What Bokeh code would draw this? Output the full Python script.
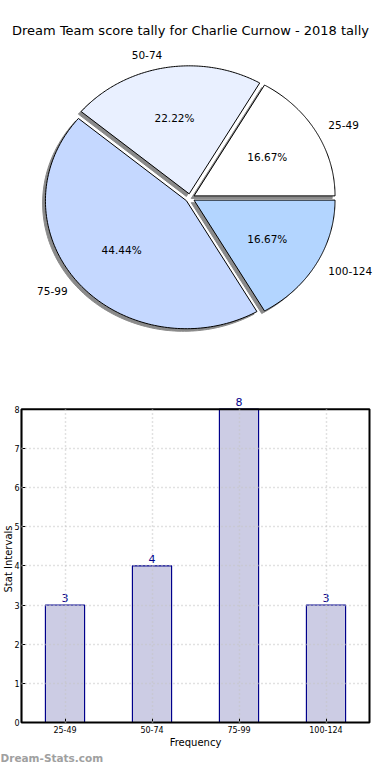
import numpy as np
from bokeh.plotting import figure
from bokeh.models import (Range1d, Label, FactorRange, SingleIntervalTicker, ColumnDataSource)
from bokeh.embed import file_html
from bokeh.resources import INLINE

# ---------------- data ----------------
title_text = "Dream Team score tally for Charlie Curnow - 2018 tally"
categories = ["25-49", "50-74", "75-99", "100-124"]
counts = [3, 4, 8, 3]
pie_colors = ["#ffffff", "#e9f0ff", "#c5d8ff", "#b3d5ff"]
y_ticks_interval = 1
x_label = "Frequency"
y_label = "Stat Intervals"
watermark = "Dream-Stats.com"

FONT = "DejaVu Sans"
W = 374

# ---------------- pie ----------------
PH = 395
pie = figure(width=W, height=PH, output_backend="svg", toolbar_location=None,
             x_range=Range1d(0, W), y_range=Range1d(0, PH), min_border=0)
pie.axis.visible = False
pie.grid.visible = False
pie.outline_line_color = None

cx, cy = 189.5, PH - 197.5
rx, ry = 141.0, 128.0
explode = 0.033
shadow_dx, shadow_dy = -0.02 * rx, -0.02 * ry

total = float(sum(counts))
fracs = [c / total for c in counts]
starts = np.cumsum([0.0] + fracs[:-1]) * 2 * np.pi
ends = np.cumsum(fracs) * 2 * np.pi

slice_xs, slice_ys, sh_xs, sh_ys = [], [], [], []
centers = []
for s, e in zip(starts, ends):
    mid = (s + e) / 2
    ox = cx + explode * rx * np.cos(mid)
    oy = cy + explode * ry * np.sin(mid)
    centers.append((ox, oy, mid))
    t = np.linspace(s, e, 120)
    xs = [ox] + list(ox + rx * np.cos(t)) + [ox]
    ys = [oy] + list(oy + ry * np.sin(t)) + [oy]
    slice_xs.append(xs)
    slice_ys.append(ys)
    sh_xs.append([x + shadow_dx for x in xs])
    sh_ys.append([y + shadow_dy for y in ys])

pie.patches(sh_xs, sh_ys, fill_color="#8a8a8a", line_color="#8a8a8a", line_width=1)
pie.patches(slice_xs, slice_ys, fill_color=pie_colors, line_color="black", line_width=1)

for (ox, oy, mid), cat, f in zip(centers, categories, fracs):
    lx = ox + 1.1 * rx * np.cos(mid)
    ly = oy + 1.1 * ry * np.sin(mid)
    pie.add_layout(Label(x=lx, y=ly, text=cat, text_font=FONT, text_font_size="10.5px",
                         text_align="left" if np.cos(mid) > 0 else "right",
                         text_baseline="middle", text_color="black"))
    px = ox + 0.6 * rx * np.cos(mid)
    py = oy + 0.6 * ry * np.sin(mid)
    pie.add_layout(Label(x=px, y=py, text="%.2f%%" % (f * 100), text_font=FONT,
                         text_font_size="10.5px", text_align="center", text_baseline="middle",
                         text_color="black"))

pie.add_layout(Label(x=190, y=PH - 30, text=title_text, text_font=FONT,
                     text_font_size="13px", text_align="center", text_baseline="middle",
                     text_color="black"))

# ---------------- bar ----------------
BH = 355
ymax = max(counts)
headroom = 0.35
src = ColumnDataSource(dict(cat=categories, count=counts))
bar = figure(width=W, height=BH, output_backend="svg", toolbar_location=None,
             x_range=FactorRange(factors=categories, range_padding=0),
             y_range=Range1d(0, ymax + headroom),
             min_border_top=0, min_border_left=19, min_border_right=5, min_border_bottom=24)
bar.vbar(x="cat", top="count", width=0.45, source=src, fill_color="#ccccE4",
         line_color="#00008b", line_width=1.2)

for i, c in enumerate(counts):
    bar.add_layout(Label(x=i + 0.5, y=c + 0.07, text=str(c), text_align="center",
                         text_baseline="bottom", text_color="#00008b",
                         text_font=FONT, text_font_size="11px"))

bar.yaxis.ticker = SingleIntervalTicker(interval=y_ticks_interval)
bar.yaxis.bounds = (0, ymax)

for ax in (bar.xaxis[0], bar.yaxis[0]):
    ax.major_tick_in = 4
    ax.major_tick_out = 0
    ax.minor_tick_in = 0
    ax.minor_tick_out = 0
    ax.axis_line_color = "black"
    ax.axis_line_width = 1.2
    ax.major_tick_line_color = "black"
    ax.major_label_text_font = FONT
    ax.major_label_text_font_size = "8px"
    ax.major_label_text_color = "black"
    ax.axis_label_text_font = FONT
    ax.axis_label_text_font_size = "10px"
    ax.axis_label_text_font_style = "normal"
    ax.axis_label_text_color = "black"
bar.xaxis[0].axis_label = x_label
bar.yaxis[0].axis_label = y_label
bar.xaxis[0].major_label_standoff = 3
bar.yaxis[0].major_label_standoff = 2
bar.xaxis[0].axis_label_standoff = 1
bar.yaxis[0].axis_label_standoff = -3

bar.grid.grid_line_color = "#c4c4c4"
bar.grid.grid_line_dash = "1 3"
bar.grid.grid_line_width = 1.5
bar.grid.level = "overlay"
bar.xgrid.cross_bounds = (0, ymax)
bar.ygrid.bounds = (0, ymax - 0.5)
bar.outline_line_color = None

# axes box (0..number of categories, 0..max count)
box = bar.quad(left=[0], right=[len(categories)], bottom=[0], top=[ymax],
               fill_color=None, line_color="black", line_width=2)
box.level = "overlay"

# ---------------- watermark strip ----------------
WH = 14
wm = figure(width=W, height=WH, output_backend="svg", toolbar_location=None,
            x_range=Range1d(0, W), y_range=Range1d(0, WH), min_border=0)
wm.axis.visible = False
wm.grid.visible = False
wm.outline_line_color = None
wm.add_layout(Label(x=0, y=WH / 2, text=watermark, text_font=FONT, text_font_size="10.5px",
                    text_font_style="bold", text_align="left", text_baseline="middle",
                    text_color="#a0a0a0"))

open("out.html", "w").write(file_html([pie, bar, wm], INLINE))
